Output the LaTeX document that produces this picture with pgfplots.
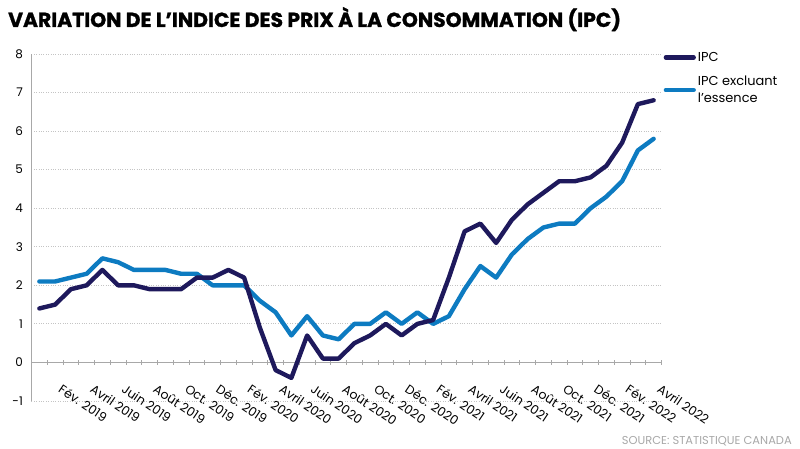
\documentclass[border=0pt]{standalone}
\usepackage{fontspec}
\setmainfont{Poppins}
\newfontfamily\titlefont{Poppins}[UprightFeatures={FakeBold=1.2}, BoldFeatures={FakeBold=1.2}]
\usepackage{pgfplots}
\usepackage{pgfplotstable}
\pgfplotsset{compat=1.18}

\definecolor{ipc}{HTML}{1E195C}
\definecolor{ipcx}{HTML}{0D7BC1}
\definecolor{gridc}{HTML}{C4C4C4}
\definecolor{axisc}{HTML}{A8A8A8}
\definecolor{srcc}{HTML}{A8A8A8}

% mois 0 = janvier 2019 ... 39 = avril 2022
\pgfplotstableread{
m ipc ipcx
0 1.4 2.1
1 1.5 2.1
2 1.9 2.2
3 2.0 2.3
4 2.4 2.7
5 2.0 2.6
6 2.0 2.4
7 1.9 2.4
8 1.9 2.4
9 1.9 2.3
10 2.2 2.3
11 2.2 2.0
12 2.4 2.0
13 2.2 2.0
14 0.9 1.6
15 -0.2 1.3
16 -0.4 0.7
17 0.7 1.2
18 0.1 0.7
19 0.1 0.6
20 0.5 1.0
21 0.7 1.0
22 1.0 1.3
23 0.7 1.0
24 1.0 1.3
25 1.1 1.0
26 2.2 1.2
27 3.4 1.9
28 3.6 2.5
29 3.1 2.2
30 3.7 2.8
31 4.1 3.2
32 4.4 3.5
33 4.7 3.6
34 4.7 3.6
35 4.8 4.0
36 5.1 4.3
37 5.7 4.7
38 6.7 5.5
39 6.8 5.8
}\cpi

\begin{document}
\begin{tikzpicture}[x=1bp,y=1bp]
\path[use as bounding box] (-31.5,-48) rectangle (768.5,401);
\begin{axis}[
    at={(0,0)}, anchor=south west,
    scale only axis,
    width=630bp, height=347bp,
    xmin=-0.5, xmax=39.5,
    ymin=-1, ymax=8,
    axis x line*=middle,
    axis y line*=left,
    axis line style={axisc, line width=1.3bp},
    ytick={-1,0,...,8},
    ymajorgrids,
    grid style={gridc, dotted, line width=0.8bp},
    ytick style={draw=none},
    xtick={1,3,...,39},
    xticklabels={Fév. 2019, Avril 2019, Juin 2019, Août 2019, Oct. 2019, Déc. 2019,
      Fév. 2020, Avril 2020, Juin 2020, Août 2020, Oct. 2020, Déc. 2020,
      Fév. 2021, Avril 2021, Juin 2021, Août 2021, Oct. 2021, Déc. 2021,
      Fév. 2022, Avril 2022},
    major x tick style={draw=none},
    minor xtick={-0.5,0.5,...,39.5},
    minor x tick style={axisc, line width=1bp},
    minor tick length=5bp,
    tick align=center,
    /pgf/number format/assume math mode=true,
    yticklabel style={font=\fontsize{12}{12}\selectfont, anchor=east, xshift=-3bp},
    xticklabel style={font=\fontsize{12.5}{13}\selectfont, inner sep=0pt,
      xshift=8bp, yshift=-19bp, rotate=-34, anchor=north west},
    reverse legend,
    legend style={draw=none, fill=none, at={(1,1)}, anchor=north west,
      xshift=-1bp, yshift=6bp,
      font=\fontsize{13}{17.5}\selectfont,
      cells={anchor=west, align=left}, row sep=9bp},
    legend image code/.code={\draw[#1, line width=4.2bp, line cap=round] (0bp,0bp) -- (28bp,0bp);},
    every axis plot/.append style={line width=4.4bp, line join=round, line cap=round},
  ]
\addplot[ipcx] table[x=m, y=ipcx] {\cpi};
\addplot[ipc] table[x=m, y=ipc] {\cpi};
\legend{IPC excluant\\l'essence, IPC}
\end{axis}
\node[anchor=base west, inner sep=0pt, font=\titlefont\bfseries\fontsize{20.4}{21}\selectfont] at (-23.5,374) {VARIATION DE L’INDICE DES PRIX À LA CONSOMMATION (IPC)};
\node[anchor=base east, inner sep=0pt, text=srcc, font=\fontsize{11.5}{12}\selectfont] at (760.5,-44) {SOURCE: STATISTIQUE CANADA};
\end{tikzpicture}
\end{document}
